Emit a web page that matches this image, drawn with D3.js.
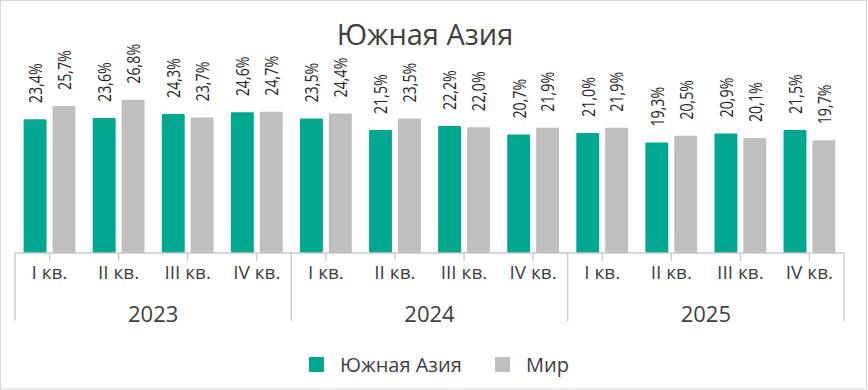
<!DOCTYPE html>
<html>
<head>
<meta charset="utf-8">
<script src="https://cdn.jsdelivr.net/npm/d3@7"></script>
<style>
  html, body { margin: 0; padding: 0; background: #fff; }
  svg { display: block; font-family: "Open Sans", sans-serif; }
</style>
</head>
<body>
<svg id="chart" width="868" height="390"></svg>
<script>
const years = ["2023", "2024", "2025"];
const quarters = ["I кв.", "II кв.", "III кв.", "IV кв."];
const seriesNames = ["Южная Азия", "Мир"];
const southAsia = [23.4, 23.6, 24.3, 24.6, 23.5, 21.5, 22.2, 20.7, 21.0, 19.3, 20.9, 21.5];
const world     = [25.7, 26.8, 23.7, 24.7, 24.4, 23.5, 22.0, 21.9, 21.9, 20.5, 20.1, 19.7];
const colors = ["#00A88F", "#BFBFBF"];
const title = "Южная Азия";

const W = 868, H = 390;
const left = 15, right = 844, baseY = 253;
const textColor = "#404040";

const svg = d3.select("#chart");

// border
svg.append("rect").attr("x", 0.5).attr("y", 0.5).attr("width", W - 2).attr("height", H - 1.5)
  .attr("fill", "#fff").attr("stroke", "#d9d9d9").attr("stroke-width", 1);

// title
svg.append("text").attr("x", 425).attr("y", 45).attr("text-anchor", "middle")
  .attr("font-size", 29).attr("fill", textColor).text(title);

const keys = [];
years.forEach(y => quarters.forEach(q => keys.push(y + "|" + q)));
const data = keys.map((k, i) => ({ key: k, year: k.split("|")[0], q: k.split("|")[1], vals: [southAsia[i], world[i]] }));

const x0 = d3.scaleBand().domain(keys).range([left, right]).paddingInner(0.25).paddingOuter(0.125);
const x1 = d3.scaleBand().domain(seriesNames).range([0, x0.bandwidth()]).paddingInner(0.207).paddingOuter(0);
const y = d3.scaleLinear().domain([0, 30]).range([baseY, baseY - 171.6]);

const xCat = d3.scaleBand().domain(keys).range([left, right]);
const xYear = d3.scaleBand().domain(years).range([left, right]);

const groups = svg.append("g").selectAll("g").data(data).join("g")
  .attr("transform", d => `translate(${x0(d.key)},0)`);

groups.selectAll("rect").data(d => d.vals.map((v, i) => ({ v, s: seriesNames[i], i })))
  .join("rect")
  .attr("x", d => x1(d.s)).attr("y", d => y(d.v))
  .attr("width", x1.bandwidth()).attr("height", d => y(0) - y(d.v))
  .attr("rx", 1).attr("fill", d => colors[d.i]);

groups.selectAll("text").data(d => d.vals.map((v, i) => ({ v, s: seriesNames[i], i })))
  .join("text")
  .attr("transform", d => `translate(${x1(d.s) + x1.bandwidth() / 2},${y(d.v) - 16}) rotate(-90) scale(0.75,1)`)
  .attr("dy", "0.36em")
  .attr("font-size", 19).attr("fill", "#262626")
  .text(d => d3.format(".1f")(d.v).replace(".", ",") + "%");

// axis
const axis = svg.append("g").attr("stroke", "#c8c8c8").attr("stroke-width", 1.3);
axis.append("line").attr("x1", left).attr("x2", right).attr("y1", baseY).attr("y2", baseY);
axis.selectAll("line.tick").data(keys).join("line").attr("class", "tick")
  .attr("x1", d => xCat(d) + xCat.bandwidth() / 2).attr("x2", d => xCat(d) + xCat.bandwidth() / 2)
  .attr("y1", baseY).attr("y2", baseY + 8);
const seps = years.map(yr => xYear(yr)).concat([right]);
axis.selectAll("line.sep").data(seps).join("line").attr("class", "sep")
  .attr("x1", d => d).attr("x2", d => d).attr("y1", baseY).attr("y2", 321);

svg.append("g").selectAll("text").data(data).join("text")
  .attr("x", d => xCat(d.key) + xCat.bandwidth() / 2).attr("y", 279)
  .attr("text-anchor", "middle").attr("font-size", 19).attr("fill", textColor)
  .text(d => d.q);

svg.append("g").selectAll("text").data(years).join("text")
  .attr("x", d => xYear(d) + xYear.bandwidth() / 2).attr("y", 322)
  .attr("text-anchor", "middle").attr("font-size", 22).attr("fill", textColor)
  .text(d => d);

// legend
const legX = [309, 495];
const leg = svg.append("g").selectAll("g").data(seriesNames).join("g")
  .attr("transform", (d, i) => `translate(${legX[i]},357)`);
leg.append("rect").attr("width", 15).attr("height", 15).attr("fill", (d, i) => colors[i]);
leg.append("text").attr("x", 31).attr("y", 15).attr("font-size", 20).attr("fill", textColor).text(d => d);
</script>
</body>
</html>
